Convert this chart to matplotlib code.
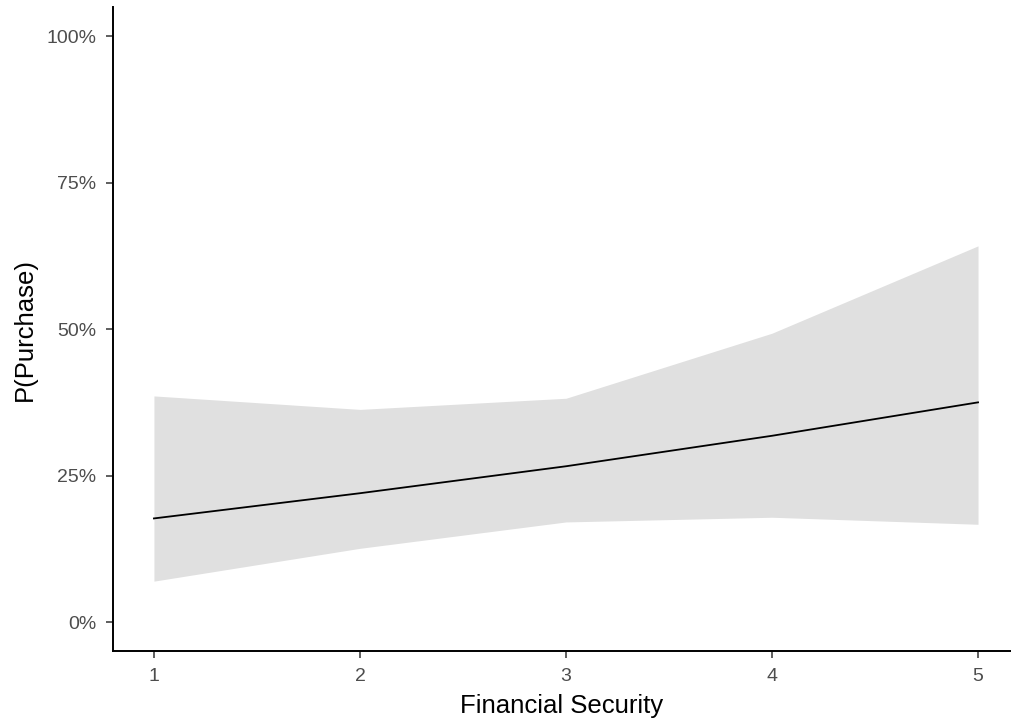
import matplotlib.pyplot as plt
from matplotlib.ticker import PercentFormatter

# predicted probability with 95% band, by financial security level
security = [1, 2, 3, 4, 5]
predicted = [0.177, 0.220, 0.266, 0.318, 0.375]
conf_low = [0.070, 0.126, 0.171, 0.179, 0.167]
conf_high = [0.386, 0.363, 0.382, 0.493, 0.642]

plt.rcParams["font.family"] = ["Liberation Sans", "DejaVu Sans"]

fig = plt.figure(figsize=(10.11, 7.28), dpi=100)
ax = fig.add_axes([0.1115, 0.1051, 0.8885, 0.8857])

ax.fill_between(security, conf_low, conf_high, color="#e0e0e0", linewidth=0)
ax.plot(security, predicted, color="black", linewidth=1.3)

ax.set_xlim(0.8, 5.16)
ax.set_ylim(-0.05, 1.05)
ax.set_xticks(security)
ax.set_yticks([0, 0.25, 0.5, 0.75, 1.0])
ax.yaxis.set_major_formatter(PercentFormatter(1.0, decimals=0))

for side in ["top", "right"]:
    ax.spines[side].set_visible(False)
for side in ["left", "bottom"]:
    ax.spines[side].set_linewidth(1.4)
    ax.spines[side].set_color("black")

ax.tick_params(axis="both", length=4.7, width=1.1, color="#333333",
               labelcolor="#4d4d4d", labelsize=14, pad=7)

ax.set_xlabel("Financial Security", fontsize=18.5, labelpad=7)
ax.set_ylabel("P(Purchase)", fontsize=18.5, labelpad=7)

fig.savefig("out.png", dpi=100)
